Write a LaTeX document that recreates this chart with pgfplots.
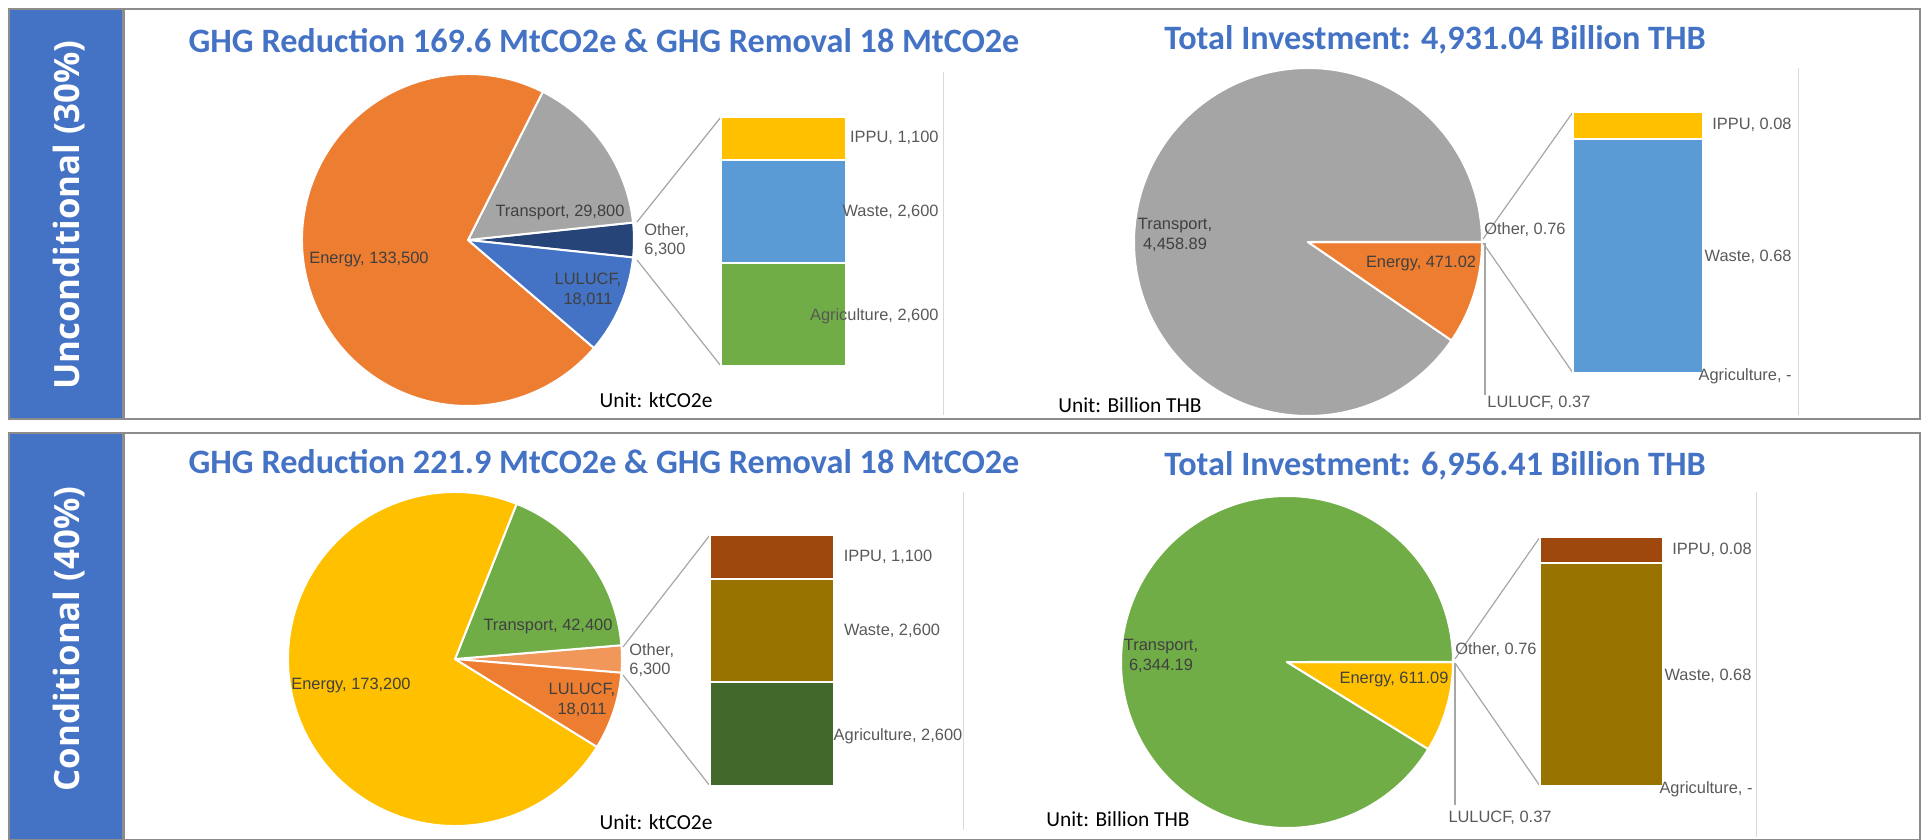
\documentclass[border=0pt]{standalone}
\usepackage{pgfplots}
\pgfplotsset{compat=1.18}
\usepackage{fontspec}
\setmainfont{Liberation Sans}
\newfontfamily\titlefont{Carlito}
\newfontfamily\sidefont{Open Sans}

\definecolor{ttl}{HTML}{4472C4}
\definecolor{sideblue}{HTML}{4472C4}
\definecolor{framegray}{HTML}{8C8C8C}
\definecolor{sepgray}{HTML}{D9D9D9}
\definecolor{conn}{HTML}{A6A6A6}
\definecolor{labgray}{HTML}{595959}
\definecolor{inlab}{HTML}{404040}
\definecolor{cOrange}{HTML}{ED7D31}
\definecolor{cGray}{HTML}{A5A5A5}
\definecolor{cNavy}{HTML}{264478}
\definecolor{cBlue}{HTML}{4472C4}
\definecolor{cYellow}{HTML}{FFC000}
\definecolor{cLBlue}{HTML}{5B9BD5}
\definecolor{cGreen}{HTML}{70AD47}
\definecolor{cLOrange}{HTML}{F1975A}
\definecolor{cBrown}{HTML}{9E480E}
\definecolor{cOlive}{HTML}{997300}
\definecolor{cDGreen}{HTML}{43682B}

% slice angles: Other centred on 0 deg, then Transport, Energy, LULUCF counter-clockwise
\newcommand{\piedata}[4]{%
  \edef\pT{\fpeval{#1+#2+#3+#4}}%
  \edef\aA{\fpeval{round(-180*#1/\pT,4)}}%
  \edef\aB{\fpeval{round(\aA+360*#1/\pT,4)}}%
  \edef\aC{\fpeval{round(\aB+360*#2/\pT,4)}}%
  \edef\aD{\fpeval{round(\aC+360*#3/\pT,4)}}%
  \edef\aE{\fpeval{round(\aD+360*#4/\pT,4)}}%
}
\newcommand{\slice}[4]{%
  \fill[#4, draw=white, line width=1pt, line join=round]
    (axis cs:0,0) -- ++(#2:#1) arc[start angle=#2, end angle=#3, radius=#1] -- cycle;
}

\pgfplotsset{
  pie/.style={anchor=center, scale only axis, hide axis, clip=false,
    xmin=-1, xmax=1, ymin=-1, ymax=1},
  stackbar/.style={anchor=south west, scale only axis, hide axis, clip=false,
    xmin=-0.5, xmax=0.5, ymin=0, ybar stacked},
}

\begin{document}
\begin{tikzpicture}[x=0.5pt, y=-0.5pt,
  lab/.style={font=\fontsize{8.2}{9.8}\selectfont, text=labgray, inner sep=0pt, align=center},
  inl/.style={lab, text=inlab},
  unit/.style={font=\titlefont\fontsize{10.7}{12}\selectfont, inner sep=0pt},
  ttlnode/.style={anchor=base, text=ttl, inner sep=0pt, font=\titlefont\bfseries\fontsize{17.1}{20}\selectfont},
  side/.style={rotate=90, text=white, inner sep=0pt, font=\sidefont\bfseries\fontsize{17.4}{21}\selectfont}]
\useasboundingbox (0,0) rectangle (1921,840);

% frames and side boxes
\fill[sideblue] (9,9) rectangle (123,419);
\fill[sideblue] (9,433) rectangle (123,840);
\draw[framegray, line width=1pt] (9,9) rectangle (1920,419);
\draw[framegray, line width=1pt] (9,433) rectangle (1920,839.5);
\draw[framegray, line width=1.5pt] (123.5,9) -- (123.5,419);
\draw[framegray, line width=1.5pt] (123.5,433) -- (123.5,840);
\node[side] at (69,215) {Unconditional (30\%)};
\node[side] at (69,639) {Conditional (40\%)};

% separators
\draw[sepgray, line width=0.5pt] (943,72) -- (943,415);
\draw[sepgray, line width=0.5pt] (1798,68) -- (1798,415);
\draw[sepgray, line width=0.5pt] (963,492) -- (963,830);
\draw[sepgray, line width=0.5pt] (1756,492) -- (1756,837);

% titles
\node[ttlnode] at (604,53) {GHG Reduction 169.6 MtCO2e \& GHG Removal 18 MtCO2e};
\node[ttlnode] at (1435,50) {Total Investment: 4,931.04 Billion THB};
\node[ttlnode] at (604,473) {GHG Reduction 221.9 MtCO2e \& GHG Removal 18 MtCO2e};
\node[ttlnode] at (1435,475) {Total Investment: 6,956.41 Billion THB};

% ---------- Row 1, left: GHG (ktCO2e) ----------
\piedata{6300}{29800}{133500}{18011}
\begin{axis}[pie, at={(234pt,-120pt)}, width=166pt, height=166pt]
\slice{83pt}{\aA}{\aB}{cNavy}
\slice{83pt}{\aB}{\aC}{cGray}
\slice{83pt}{\aC}{\aD}{cOrange}
\slice{83pt}{\aD}{\aE}{cBlue}
\end{axis}
\draw[conn, line width=0.6pt] (637,222) -- (721,117);
\draw[conn, line width=0.6pt] (637,260) -- (721,366);
\begin{axis}[stackbar, at={(360.5pt,-183pt)}, width=62.5pt, height=124.5pt,
  ymax=6300, bar width=62.5pt]
\addplot[fill=cGreen, draw=white, line width=1pt] coordinates {(0,2600)};
\addplot[fill=cLBlue, draw=white, line width=1pt] coordinates {(0,2600)};
\addplot[fill=cYellow, draw=white, line width=1pt] coordinates {(0,1100)};
\end{axis}
\node[inl] at (369,259) {Energy, 133,500};
\node[inl] at (560,212) {Transport, 29,800};
\node[lab, anchor=west, align=left] at (644,240) {Other,\\6,300};
\node[inl] at (588,290) {LULUCF,\\18,011};
\node[lab, anchor=east] at (939,138) {IPPU, 1,100};
\node[lab, anchor=east] at (939,212) {Waste, 2,600};
\node[lab, anchor=east] at (939,316) {Agriculture, 2,600};
\node[unit] at (656,400) {Unit: ktCO2e};

% ---------- Row 1, right: investment (Billion THB) ----------
\piedata{0.76}{4458.89}{471.02}{0.37}
\begin{axis}[pie, at={(654pt,-121pt)}, width=174pt, height=174pt]
\slice{87pt}{\aA}{\aB}{cBlue}
\slice{87pt}{\aB}{\aC}{cGray}
\slice{87pt}{\aC}{\aD}{cOrange}
\slice{87pt}{\aD}{\aE}{cYellow}
\end{axis}
\draw[conn, line width=0.6pt] (1483,239) -- (1573,112);
\draw[conn, line width=0.6pt] (1483,243) -- (1573,373);
\draw[conn, line width=0.6pt] (1485,243) -- (1485,395);
\begin{axis}[stackbar, at={(786.5pt,-186.5pt)}, width=65pt, height=130.5pt,
  ymax=0.76, bar width=65pt]
\addplot[fill=cGreen, draw=none] coordinates {(0,0)};
\addplot[fill=cLBlue, draw=white, line width=1pt] coordinates {(0,0.68)};
\addplot[fill=cYellow, draw=white, line width=1pt] coordinates {(0,0.08)};
\end{axis}
\node[inl] at (1175,235) {Transport,\\4,458.89};
\node[inl] at (1421,263) {Energy, 471.02};
\node[lab, anchor=west] at (1484,230) {Other, 0.76};
\node[lab, anchor=west] at (1487,403) {LULUCF, 0.37};
\node[lab, anchor=east] at (1792,125) {IPPU, 0.08};
\node[lab, anchor=east] at (1792,257) {Waste, 0.68};
\node[lab, anchor=east] at (1792,376) {Agriculture, -};
\node[unit] at (1130,405) {Unit: Billion THB};

% ---------- Row 2, left ----------
\piedata{6300}{42400}{173200}{18011}
\begin{axis}[pie, at={(227.5pt,-329.5pt)}, width=167pt, height=167pt]
\slice{83.5pt}{\aA}{\aB}{cLOrange}
\slice{83.5pt}{\aB}{\aC}{cGreen}
\slice{83.5pt}{\aC}{\aD}{cYellow}
\slice{83.5pt}{\aD}{\aE}{cOrange}
\end{axis}
\draw[conn, line width=0.6pt] (623,647) -- (710,535);
\draw[conn, line width=0.6pt] (623,675) -- (710,786);
\begin{axis}[stackbar, at={(355pt,-393pt)}, width=62pt, height=125.5pt,
  ymax=6300, bar width=62pt]
\addplot[fill=cDGreen, draw=white, line width=1pt] coordinates {(0,2600)};
\addplot[fill=cOlive, draw=white, line width=1pt] coordinates {(0,2600)};
\addplot[fill=cBrown, draw=white, line width=1pt] coordinates {(0,1100)};
\end{axis}
\node[inl] at (351,685) {Energy, 173,200};
\node[inl] at (548,626) {Transport, 42,400};
\node[lab, anchor=west, align=left] at (629,660) {Other,\\6,300};
\node[inl] at (582,700) {LULUCF,\\18,011};
\node[lab] at (888,557) {IPPU, 1,100};
\node[lab] at (892,631) {Waste, 2,600};
\node[lab] at (898,736) {Agriculture, 2,600};
\node[unit] at (656,822) {Unit: ktCO2e};

% ---------- Row 2, right ----------
\piedata{0.76}{6344.19}{611.09}{0.37}
\begin{axis}[pie, at={(643.5pt,-331pt)}, width=166pt, height=166pt]
\slice{83pt}{\aA}{\aB}{cLOrange}
\slice{83pt}{\aB}{\aC}{cGreen}
\slice{83pt}{\aC}{\aD}{cYellow}
\slice{83pt}{\aD}{\aE}{cOrange}
\end{axis}
\draw[conn, line width=0.6pt] (1455,659) -- (1540,537);
\draw[conn, line width=0.6pt] (1455,663) -- (1540,786);
\draw[conn, line width=0.6pt] (1455,663) -- (1455,805);
\begin{axis}[stackbar, at={(770pt,-393pt)}, width=61.5pt, height=124.5pt,
  ymax=0.76, bar width=61.5pt]
\addplot[fill=cDGreen, draw=none] coordinates {(0,0)};
\addplot[fill=cOlive, draw=white, line width=1pt] coordinates {(0,0.68)};
\addplot[fill=cBrown, draw=white, line width=1pt] coordinates {(0,0.08)};
\end{axis}
\node[inl] at (1161,656) {Transport,\\6,344.19};
\node[inl] at (1394,679) {Energy, 611.09};
\node[lab, anchor=west] at (1455,650) {Other, 0.76};
\node[lab] at (1500,818) {LULUCF, 0.37};
\node[lab] at (1712,550) {IPPU, 0.08};
\node[lab] at (1708,676) {Waste, 0.68};
\node[lab] at (1706,789) {Agriculture, -};
\node[unit] at (1118,819) {Unit: Billion THB};
\end{tikzpicture}
\end{document}
